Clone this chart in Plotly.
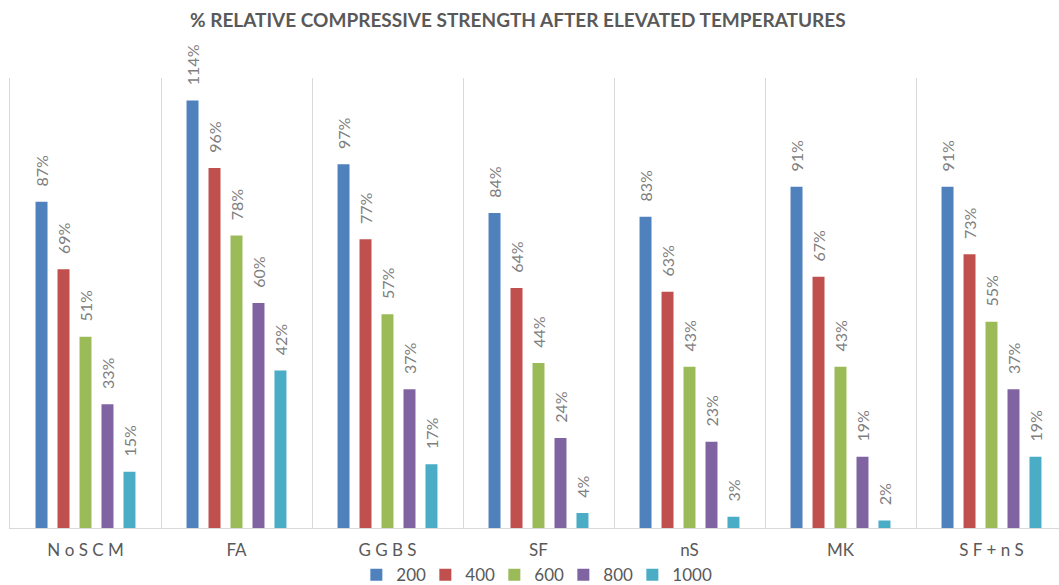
import plotly.graph_objects as go

categories = ["N o S C M", "FA", "G G B S", "SF", "nS", "MK", "S F + n S"]
series_names = ["200", "400", "600", "800", "1000"]
values_200 = [0.87, 1.14, 0.97, 0.84, 0.83, 0.91, 0.91]
values_400 = [0.69, 0.96, 0.77, 0.64, 0.63, 0.67, 0.73]
values_600 = [0.51, 0.78, 0.57, 0.44, 0.43, 0.43, 0.55]
values_800 = [0.33, 0.60, 0.37, 0.24, 0.23, 0.19, 0.37]
values_1000 = [0.15, 0.42, 0.17, 0.04, 0.03, 0.02, 0.19]
colors = ["#4F81BD", "#C0504D", "#9BBB59", "#8064A2", "#4BACC6"]

all_values = [values_200, values_400, values_600, values_800, values_1000]

FONT = "Lato"
fig = go.Figure()
for name, vals, col in zip(series_names, all_values, colors):
    fig.add_trace(go.Bar(
        x=categories, y=vals, name=name,
        marker=dict(color=col, line=dict(width=0)),
        texttemplate="\u00a0\u00a0\u00a0%{y:.0%}",
        textposition="outside", textangle=-90,
        constraintext="none", cliponaxis=False,
        textfont=dict(family=FONT, size=16, color="#7F7F7F"),
    ))

# empty, invisible legend spacer so the last legend label is not clipped
fig.add_trace(go.Scatter(x=[None], y=[None], name=" ", showlegend=True, mode="markers",
                         marker=dict(color="rgba(0,0,0,0)", opacity=0, line=dict(width=0)),
                         hoverinfo="skip"))

fig.update_layout(
    width=1059, height=585,
    margin=dict(l=10, r=0, t=78, b=57, autoexpand=False),
    paper_bgcolor="white", plot_bgcolor="white",
    barmode="group", bargap=0.272, bargroupgap=0.455,
    title=dict(text="<b>% RELATIVE COMPRESSIVE STRENGTH AFTER ELEVATED TEMPERATURES</b>",
               x=0.489, xanchor="center", xref="container",
               y=0.965, yanchor="middle", yref="container",
               font=dict(family=FONT, size=19, color="#595959")),
    showlegend=True,
    legend=dict(orientation="h", x=0.5275, xanchor="center", y=-0.105, yanchor="middle",
                bgcolor="rgba(0,0,0,0)",
                font=dict(family=FONT, size=17, color="#595959"),
                itemwidth=30, entrywidth=24, entrywidthmode="pixels",
                traceorder="normal"),
    xaxis=dict(type="category", range=[-0.5, 6.447], tickson="boundaries",
               showgrid=True, gridcolor="#D9D9D9", gridwidth=1,
               showline=True, linecolor="#D9D9D9", linewidth=1,
               ticks="", ticklabelstandoff=7,
               tickfont=dict(family=FONT, size=17, color="#595959")),
    yaxis=dict(range=[0, 1.2], showgrid=False, zeroline=False,
               showline=True, linecolor="#D9D9D9", linewidth=1,
               showticklabels=False, ticks=""),
)

fig.write_html("out.html")
